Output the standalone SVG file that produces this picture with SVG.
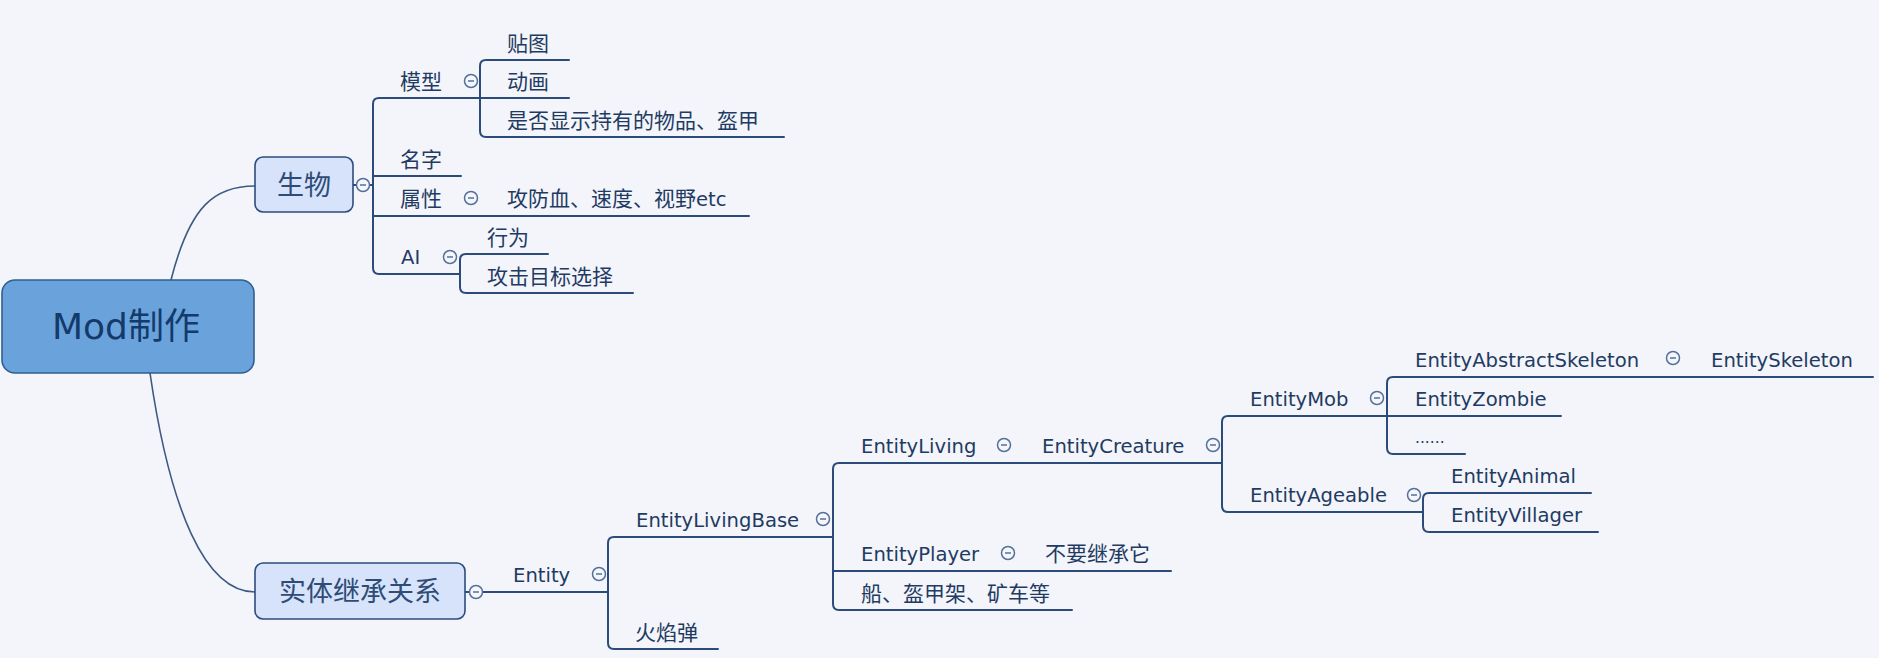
<svg xmlns="http://www.w3.org/2000/svg" xmlns:xlink="http://www.w3.org/1999/xlink" width="1879" height="658" viewBox="0 0 1879 658">
<style>
.bg{fill:#f3f5fa}
.ln{fill:none;stroke:#2b4b7a;stroke-width:2;stroke-linecap:round}
.cv{fill:none;stroke:#3d5a85;stroke-width:1.6}
.t{font-family:"DejaVu Sans","Noto Sans CJK SC",sans-serif;font-size:19.6px;fill:#1f3b63}
.c{font-family:"Noto Sans CJK SC","DejaVu Sans",sans-serif;font-size:21px;fill:#1f3b63}
.sub{fill:#d6e3fb;stroke:#2d4d7c;stroke-width:1.6}
.subt{font-family:"Noto Sans CJK SC",sans-serif;font-size:27px;fill:#2e4c76}
.main{fill:#6aa3dc;stroke:#2e5f8f;stroke-width:1.6}
.maint{font-family:"DejaVu Sans","Noto Sans CJK SC",sans-serif;font-size:36px;fill:#133a6b}
</style>
<defs>
<g id="col">
<circle cx="0" cy="0" r="6.5" fill="#f4f6fb" stroke="#55709a" stroke-width="1.5"/>
<line x1="-3" y1="0" x2="3" y2="0" stroke="#55709a" stroke-width="1.5"/>
</g>
</defs>
<rect class="bg" x="0" y="0" width="1879" height="658"/>

<g id="connectors">
<path class="cv" d="M171,280 C190,205 215,186 255,186"/>
<path class="cv" d="M150,373 C170,510 205,592 255,592"/>
<!-- 生物 -->
<path class="ln" d="M353,185 L356.5,185 M369.5,185 L373,185"/>
<path class="ln" d="M569,98 L379,98 Q373,98 373,104 L373,268 Q373,274 379,274 L460,274"/>
<path class="ln" d="M373,176 L461,176 M373,216 L749,216"/>
<path class="ln" d="M569,60 L486,60 Q480,60 480,66 L480,131 Q480,137 486,137 L784,137"/>
<path class="ln" d="M548,254 L466,254 Q460,254 460,260 L460,287 Q460,293 466,293 L633,293"/>
<!-- 实体继承关系 -->
<path class="ln" d="M465,592 L469.5,592 M482.5,592 L608,592"/>
<path class="ln" d="M833,537 L614,537 Q608,537 608,543 L608,643 Q608,649 614,649 L718,649"/>
<path class="ln" d="M1222,463 L839,463 Q833,463 833,469 L833,604 Q833,610 839,610 L1072,610"/>
<path class="ln" d="M833,571 L1171,571"/>
<path class="ln" d="M1561,416 L1228,416 Q1222,416 1222,422 L1222,506 Q1222,512 1228,512 L1423,512"/>
<path class="ln" d="M1873,377 L1393,377 Q1387,377 1387,383 L1387,448 Q1387,454 1393,454 L1465,454"/>
<path class="ln" d="M1591,493 L1429,493 Q1423,493 1423,499 L1423,526 Q1423,532 1429,532 L1598,532"/>
</g>

<g id="node-root">
<rect class="main" x="2" y="280" width="252" height="93" rx="13"/>
<text class="maint" x="126" y="339" text-anchor="middle">Mod制作</text>
</g>

<g id="node-shengwu">
<rect class="sub" x="255" y="157" width="98" height="55" rx="8"/>
<text class="subt" x="304" y="195" text-anchor="middle">生物</text>
<use xlink:href="#col" x="363" y="185"/>
</g>
<g id="node-moxing">
<text class="c" x="400" y="88.5">模型</text>
<use xlink:href="#col" x="471" y="81"/>
</g>
<g id="node-tietu"><text class="c" x="507" y="50.5">贴图</text></g>
<g id="node-donghua"><text class="c" x="507" y="88.5">动画</text></g>
<g id="node-shifou"><text class="c" x="507" y="127.5">是否显示持有的物品、盔甲</text></g>
<g id="node-mingzi"><text class="c" x="400" y="167">名字</text></g>
<g id="node-shuxing">
<text class="c" x="400" y="206">属性</text>
<use xlink:href="#col" x="471" y="198"/>
</g>
<g id="node-gongfang"><text class="c" x="507" y="206">攻防血、速度、视野<tspan class="t">etc</tspan></text></g>
<g id="node-ai">
<text class="t" x="401" y="264">AI</text>
<use xlink:href="#col" x="450" y="257"/>
</g>
<g id="node-xingwei"><text class="c" x="487" y="245">行为</text></g>
<g id="node-gongji"><text class="c" x="487" y="284">攻击目标选择</text></g>

<g id="node-shiti">
<rect class="sub" x="255" y="563" width="210" height="56" rx="8"/>
<text class="subt" x="360" y="601" text-anchor="middle">实体继承关系</text>
<use xlink:href="#col" x="476" y="592"/>
</g>
<g id="node-entity">
<text class="t" x="513" y="582">Entity</text>
<use xlink:href="#col" x="599" y="574"/>
</g>
<g id="node-livingbase">
<text class="t" x="636" y="527">EntityLivingBase</text>
<use xlink:href="#col" x="823" y="519"/>
</g>
<g id="node-huoyan"><text class="c" x="635" y="640">火焰弹</text></g>
<g id="node-living">
<text class="t" x="861" y="453">EntityLiving</text>
<use xlink:href="#col" x="1004" y="445"/>
</g>
<g id="node-creature">
<text class="t" x="1042" y="453">EntityCreature</text>
<use xlink:href="#col" x="1213" y="445"/>
</g>
<g id="node-player">
<text class="t" x="861" y="561">EntityPlayer</text>
<use xlink:href="#col" x="1008" y="553"/>
</g>
<g id="node-buyao"><text class="c" x="1045" y="561">不要继承它</text></g>
<g id="node-chuan"><text class="c" x="861" y="601">船、盔甲架、矿车等</text></g>
<g id="node-mob">
<text class="t" x="1250" y="406">EntityMob</text>
<use xlink:href="#col" x="1377" y="398"/>
</g>
<g id="node-ageable">
<text class="t" x="1250" y="502">EntityAgeable</text>
<use xlink:href="#col" x="1414" y="495"/>
</g>
<g id="node-abstractskeleton">
<text class="t" x="1415" y="367">EntityAbstractSkeleton</text>
<use xlink:href="#col" x="1673" y="358"/>
</g>
<g id="node-skeleton"><text class="t" x="1711" y="367">EntitySkeleton</text></g>
<g id="node-zombie"><text class="t" x="1415" y="406">EntityZombie</text></g>
<g id="node-more"><text class="t" x="1415" y="443" style="font-size:15.5px">......</text></g>
<g id="node-animal"><text class="t" x="1451" y="483">EntityAnimal</text></g>
<g id="node-villager"><text class="t" x="1451" y="522">EntityVillager</text></g>
</svg>
